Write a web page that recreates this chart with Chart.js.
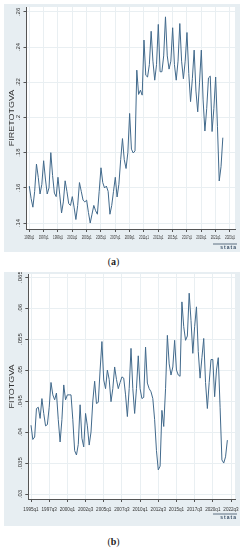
<!DOCTYPE html>
<html>
<head>
<meta charset="utf-8">
<script src="https://cdn.jsdelivr.net/npm/chart.js@4.4.1/dist/chart.umd.min.js"></script>
<style>
body{margin:0;background:#fff;width:243px;height:550px;position:relative;overflow:hidden}
canvas{position:absolute}
#ca{left:4px;top:4px}
#cb{left:4px;top:272px}
.cap{position:absolute;width:243px;left:-8px;text-align:center;font-family:"Liberation Serif","Times New Roman",serif;font-size:10px;color:#222}
</style>
</head>
<body>
<canvas id="ca" width="236" height="248"></canvas>
<div class="cap" style="top:256px">(<b>a</b>)</div>
<canvas id="cb" width="236" height="254"></canvas>
<div class="cap" style="top:536px">(<b>b</b>)</div>
<script>
// quarterly series, 1995q1 .. 2022q1
const fireTotGva = [
  .161, .154, .149, .158,     // 1995
  .1735, .166, .1565, .162,   // 1996
  .1754, .165, .1565, .160,   // 1997
  .180, .167, .157, .155,     // 1998
  .166, .156, .1457, .152,    // 1999
  .164, .158, .151, .150,     // 2000
  .155, .149, .142, .150,     // 2001
  .163, .158, .153, .152,     // 2002
  .153, .146, .140, .145,     // 2003
  .150, .147, .145, .158,     // 2004
  .1714, .163, .1599, .161,   // 2005
  .158, .145, .150, .158,     // 2006
  .166, .1548, .162, .176,    // 2007
  .188, .176, .171, .180,     // 2008
  .2023, .182, .1798, .181,   // 2009
  .2269, .2131, .2155, .2127, // 2010
  .244, .224, .223, .230,     // 2011
  .249, .232, .2212, .230,    // 2012
  .2529, .226, .226, .235,    // 2013
  .2572, .235, .2275, .232,   // 2014
  .251, .230, .2212, .232,    // 2015
  .2534, .232, .222, .232,    // 2016
  .2483, .225, .209, .222,    // 2017
  .2383, .215, .2032, .220,   // 2018
  .2383, .210, .1923, .205,   // 2019
  .2225, .2235, .192, .205,   // 2020
  .223, .195, .1639, .172,    // 2021
  .1885                       // 2022
];

const fitTotGva = [
  .0411, .0388, .0392, .0438,  // 1995
  .0440, .0422, .0454, .0430,  // 1996
  .0410, .0412, .0440, .0480,  // 1997
  .0460, .0452, .0463, .0420,  // 1998
  .0384, .0420, .0476, .0452,  // 1999
  .0460, .0460, .0460, .0420,  // 2000
  .0370, .0363, .0380, .0444,  // 2001
  .0390, .0376, .0430, .0410,  // 2002
  .0379, .0400, .0450, .0482,  // 2003
  .0446, .0448, .0500, .0546,  // 2004
  .0484, .0470, .0500, .0485,  // 2005
  .0449, .0470, .0505, .0485,  // 2006
  .0470, .0480, .0489, .0487,  // 2007
  .0460, .0425, .0470, .0535,  // 2008
  .0470, .0430, .0470, .0523,  // 2009
  .0470, .0454, .0456, .0537,  // 2010
  .0479, .0470, .0465, .0454,  // 2011
  .0420, .0370, .0339, .0345,  // 2012
  .0435, .0409, .0470, .0556,  // 2013
  .0510, .0492, .0505, .0548,  // 2014
  .0500, .0492, .0490, .0610,  // 2015
  .0570, .0548, .0555, .0624,  // 2016
  .0580, .0527, .0570, .0602,  // 2017
  .0530, .0487, .0520, .0551,  // 2018
  .0480, .0438, .0480, .0517,  // 2019
  .0517, .0457, .0500, .0520,  // 2020
  .0440, .0355, .0350, .0360,  // 2021
  .0387                        // 2022
];

const xLabelsA = ['1995q1','1997q1','1999q1','2001q1','2003q1','2005q1','2007q1','2009q1',
                  '2011q1','2013q1','2015q1','2017q1','2019q1','2021q1','2023q1'];
const xLabelsB = ['1995q1','1997q3','2000q1','2002q3','2005q1','2007q3','2010q1','2012q3',
                  '2015q1','2017q3','2020q1','2022q3'];
const yLabelsA = ['.14','.16','.18','.2','.22','.24','.26'];
const yLabelsB = ['.03','.035','.04','.045','.05','.055','.06','.065'];

const PANEL = '#e7eef2';
const GRID = '#e9eff2';
const AXIS = '#555';
const LINE = 'rgb(66,106,140)';
const TEXT = '#333';
const FONT = '"Liberation Sans", Arial, sans-serif';

// '1997q3' -> quarters since 1995q1
function qIndex(s) {
  return (parseInt(s.slice(0, 4)) - 1995) * 4 + parseInt(s.slice(5)) - 1;
}

const stataPanel = {
  id: 'stataPanel',
  beforeDraw(chart) {
    const ctx = chart.ctx, a = chart.chartArea;
    ctx.save();
    ctx.fillStyle = PANEL;
    ctx.fillRect(0, 0, chart.width, chart.height);
    ctx.fillStyle = '#fff';
    ctx.fillRect(a.left, a.top, a.right - a.left, a.bottom - a.top);
    ctx.restore();
  },
  afterDraw(chart, args, o) {
    const ctx = chart.ctx, a = chart.chartArea;
    const xs = chart.scales.x, ys = chart.scales.y;
    ctx.save();
    ctx.fillStyle = TEXT;
    ctx.textAlign = 'center';
    ctx.textBaseline = 'middle';

    // rotated y labels
    ctx.font = o.yFont + 'px ' + FONT;
    ys.ticks.forEach((t, i) => {
      ctx.save();
      ctx.translate(a.left - o.yGap, ys.getPixelForValue(t.value));
      ctx.scale(o.yScaleX, 1);
      ctx.rotate(-Math.PI / 2);
      ctx.fillText(o.yLabels[i], 0, 0);
      ctx.restore();
    });

    // x labels (squeezed like the source image)
    ctx.font = o.xFont + 'px ' + FONT;
    xs.ticks.forEach((t, i) => {
      ctx.save();
      ctx.translate(xs.getPixelForValue(t.value), a.bottom + o.xGap);
      ctx.scale(o.xScaleX, 1);
      ctx.fillText(o.xLabels[i], 0, 0);
      ctx.restore();
    });

    // axis title
    ctx.font = o.titleFont + 'px ' + FONT;
    ctx.save();
    ctx.translate(o.titleX, (a.top + a.bottom) / 2);
    ctx.scale(0.75, 1);
    ctx.rotate(-Math.PI / 2);
    ctx.fillText(o.title, 0, 0);
    ctx.restore();

    // stata mark
    const rx = chart.width - 3;
    ctx.fillStyle = '#3a4f66';
    ctx.strokeStyle = '#3a4f66';
    ctx.lineWidth = 0.8;
    ctx.beginPath();
    ctx.moveTo(rx - 24, o.logoY - 4);
    ctx.lineTo(rx, o.logoY - 4);
    ctx.stroke();
    ctx.font = 'bold 5px ' + FONT;
    ctx.letterSpacing = '1px';
    ctx.textAlign = 'right';
    ctx.fillText('stata', rx, o.logoY);
    ctx.restore();
  }
};

function makeChart(id, values, name, xLabels, yLabels, cfg) {
  return new Chart(document.getElementById(id), {
    type: 'line',
    data: {
      datasets: [{
        label: name,
        data: values.map((v, i) => ({ x: i, y: v })),
        borderColor: LINE,
        borderWidth: 1,
        pointRadius: 0,
        tension: 0,
        fill: false
      }]
    },
    options: {
      responsive: false,
      animation: false,
      devicePixelRatio: 1,
      layout: { padding: cfg.padding },
      plugins: {
        legend: { display: false },
        tooltip: { enabled: false },
        stataPanel: Object.assign({ title: name, xLabels: xLabels, yLabels: yLabels }, cfg.text)
      },
      scales: {
        x: {
          type: 'linear',
          min: cfg.xMin,
          max: cfg.xMax,
          afterBuildTicks: (s) => { s.ticks = xLabels.map(l => ({ value: qIndex(l) })); },
          ticks: { display: false },
          grid: { color: GRID, tickColor: AXIS, tickLength: 3, lineWidth: 1 },
          border: { color: AXIS, width: 1 }
        },
        y: {
          min: cfg.yMin,
          max: cfg.yMax,
          afterBuildTicks: (s) => { s.ticks = yLabels.map(l => ({ value: parseFloat(l) })); },
          ticks: { display: false },
          grid: { color: GRID, tickColor: AXIS, tickLength: 3, lineWidth: 1 },
          border: { color: AXIS, width: 1 }
        }
      }
    },
    plugins: [stataPanel]
  });
}

makeChart('ca', fireTotGva, 'FIRETOTGVA', xLabelsA, yLabelsA, {
  padding: { left: 19.5, top: 3, right: 5, bottom: 20 },
  xMin: -1.56, xMax: 114.8,
  yMin: 0.1366, yMax: 0.2628,
  text: { yFont: 6, yGap: 7.5, yScaleX: 0.85, xFont: 4.6, xGap: 9, xScaleX: 0.65,
          titleFont: 9, titleX: 8, logoY: 244 }
});

makeChart('cb', fitTotGva, 'FITOTGVA', xLabelsB, yLabelsB, {
  padding: { left: 21.3, top: 2, right: 5, bottom: 24 },
  xMin: -1.49, xMax: 112.2,
  yMin: 0.0292, yMax: 0.0655,
  text: { yFont: 6, yGap: 7.5, yScaleX: 0.85, xFont: 5.6, xGap: 10, xScaleX: 0.82,
          titleFont: 9, titleX: 8.5, logoY: 246 }
});
</script>
</body>
</html>
